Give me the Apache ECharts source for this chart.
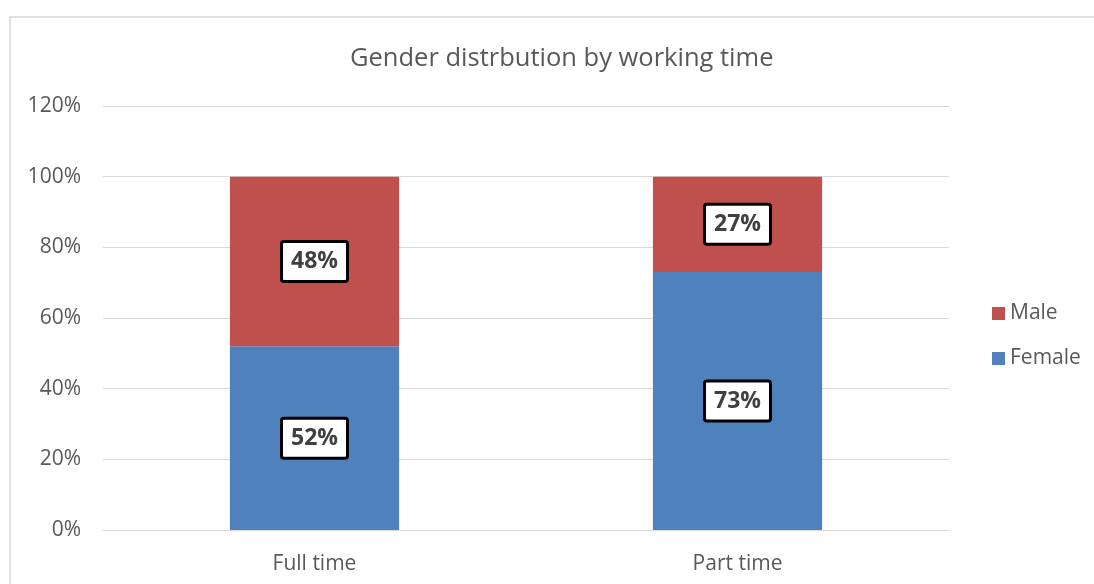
<!DOCTYPE html>
<html><head><meta charset="utf-8">
<script src="https://cdn.jsdelivr.net/npm/echarts@6/dist/echarts.min.js"></script>
<style>html,body{margin:0;padding:0;background:#fff}#c{width:1094px;height:584px}</style>
</head><body><div id="c"></div>
<script>
const categories = ['Full time', 'Part time'];
const femaleValues = [52, 73];
const maleValues = [48, 27];
const yTicks = [0, 20, 40, 60, 80, 100, 120];

const font = 'Open Sans';
const labelStyle = {
  show: true, position: 'inside',
  formatter: p => p.value + '%',
  fontFamily: font, fontWeight: 'bold', fontSize: 23, color: '#404040',
  backgroundColor: '#fff', borderColor: '#000', borderWidth: 3, borderRadius: 1,
  padding: [8, 8, 6, 8]
};
const chart = echarts.init(document.getElementById('c'));
chart.setOption({
  animation: false,
  title: { text: 'Gender distrbution by working time', left: 345, top: 41,
    textStyle: { fontFamily: font, fontWeight: 'normal', fontSize: 25.5, color: '#595959' } },
  graphic: [{ type: 'rect', shape: { x: 10, y: 17, width: 1200, height: 700 }, z: -10,
    style: { fill: 'none', stroke: '#d9d9d9', lineWidth: 1.5 } }],
  grid: { left: 103, right: 145, top: 106, bottom: 54 },
  legend: { data: ['Male', 'Female'], orient: 'vertical', left: 987, top: 298, itemGap: 24,
    icon: 'rect', itemWidth: 13, itemHeight: 13, itemStyle: { borderWidth: 0 },
    textStyle: { fontFamily: font, fontSize: 21, color: '#595959' } },
  xAxis: { type: 'category', data: categories,
    axisLine: { lineStyle: { color: '#d9d9d9' } }, axisTick: { show: false },
    axisLabel: { fontFamily: font, fontSize: 21, color: '#595959', margin: 24 } },
  yAxis: { type: 'value', min: 0, max: 120, interval: 20,
    axisLabel: { formatter: v => yTicks.includes(v) ? v + '%' : '', fontFamily: font, fontSize: 21, color: '#595959', margin: 22 },
    splitLine: { lineStyle: { color: '#d9d9d9', width: 1 } },
    axisLine: { show: false }, axisTick: { show: false } },
  series: [
    { name: 'Female', type: 'bar', stack: 'a', data: femaleValues, barWidth: '40%',
      itemStyle: { color: '#4f81bd' }, label: labelStyle },
    { name: 'Male', type: 'bar', stack: 'a', data: maleValues, barWidth: '40%',
      itemStyle: { color: '#c0504d' }, label: labelStyle }
  ]
});
</script></body></html>
